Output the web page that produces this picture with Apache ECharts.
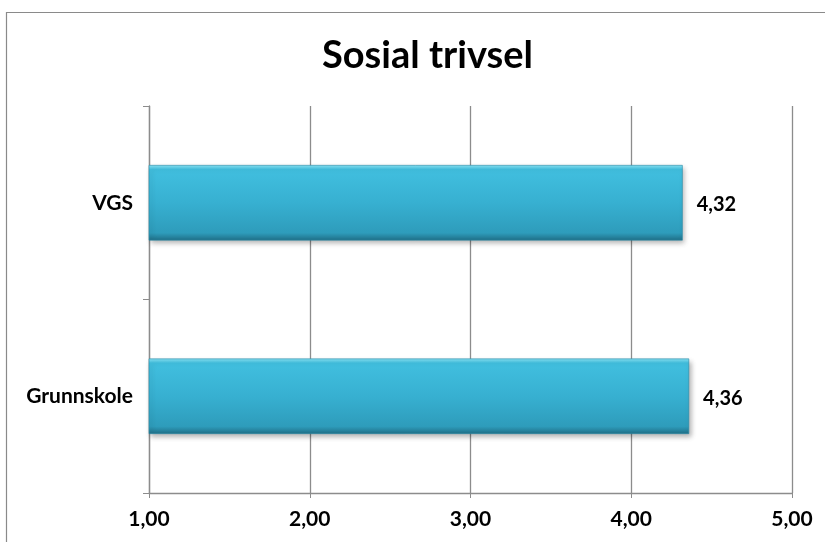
<!DOCTYPE html>
<html><head><meta charset="utf-8">
<script src="https://cdn.jsdelivr.net/npm/echarts@6/dist/echarts.min.js"></script>
<style>html,body{margin:0;padding:0;background:#fff}#c{width:825px;height:542px}</style>
</head><body><div id="c"></div>
<script>
var titleText = 'Sosial trivsel';
var categories = ['Grunnskole', 'VGS'];
var values = [4.36, 4.32];
var xMin = 1, xMax = 5, xInterval = 1;

var FONT = 'Lato';
function fmt(v){ return Number(v).toFixed(2).replace('.', ','); }

var chart = echarts.init(document.getElementById('c'));
chart.setOption({
  animation: false,
  backgroundColor: '#fff',
  graphic: [{
    type: 'rect', shape: {x: 6.5, y: 12.5, width: 830, height: 540},
    style: {fill: 'none', stroke: '#8a8a8a', lineWidth: 1.2}, z: -1
  }],
  title: {
    text: titleText, left: 317, top: 32,
    textStyle: {fontFamily: FONT, fontWeight: 'bold', fontSize: 38, color: '#000'}
  },
  grid: {left: 149, right: 33, top: 106, bottom: 49, containLabel: false},
  xAxis: {
    type: 'value', min: xMin, max: xMax, interval: xInterval,
    axisLine: {show: true, lineStyle: {color: '#8c8c8c', width: 1.3}},
    axisTick: {show: true, length: 5, lineStyle: {color: '#8c8c8c'}},
    splitLine: {show: true, lineStyle: {color: '#8c8c8c', width: 1.3}},
    axisLabel: {margin: 16, formatter: fmt, fontFamily: FONT, fontWeight: 'bold', fontSize: 21, color: '#000'}
  },
  yAxis: {
    type: 'category', data: categories,
    axisLine: {show: true, lineStyle: {color: '#8c8c8c', width: 1.3}},
    axisTick: {show: true, length: 6, lineStyle: {color: '#8c8c8c'}},
    axisLabel: {margin: 16, fontFamily: FONT, fontWeight: 'bold', fontSize: 21, color: '#000'}
  },
  series: [{
    type: 'bar', data: values, barWidth: '39%',
    itemStyle: {
      color: new echarts.graphic.LinearGradient(0, 0, 0, 1, [
        {offset: 0, color: '#8ae4f5'},
        {offset: 0.06, color: '#41bfdf'},
        {offset: 0.5, color: '#37b0d1'},
        {offset: 0.9, color: '#2e9cbb'},
        {offset: 1, color: '#1f6e86'}
      ]),
      borderColor: '#2a8aa6', borderWidth: 0.6,
      shadowColor: 'rgba(0,0,0,0.3)', shadowBlur: 5, shadowOffsetX: 2, shadowOffsetY: 3
    },
    label: {
      show: true, position: 'right', distance: 14, offset: [0, 2], formatter: function(p){ return fmt(p.value); },
      fontFamily: FONT, fontWeight: 'bold', fontSize: 20, color: '#000'
    }
  }]
});
</script></body></html>
